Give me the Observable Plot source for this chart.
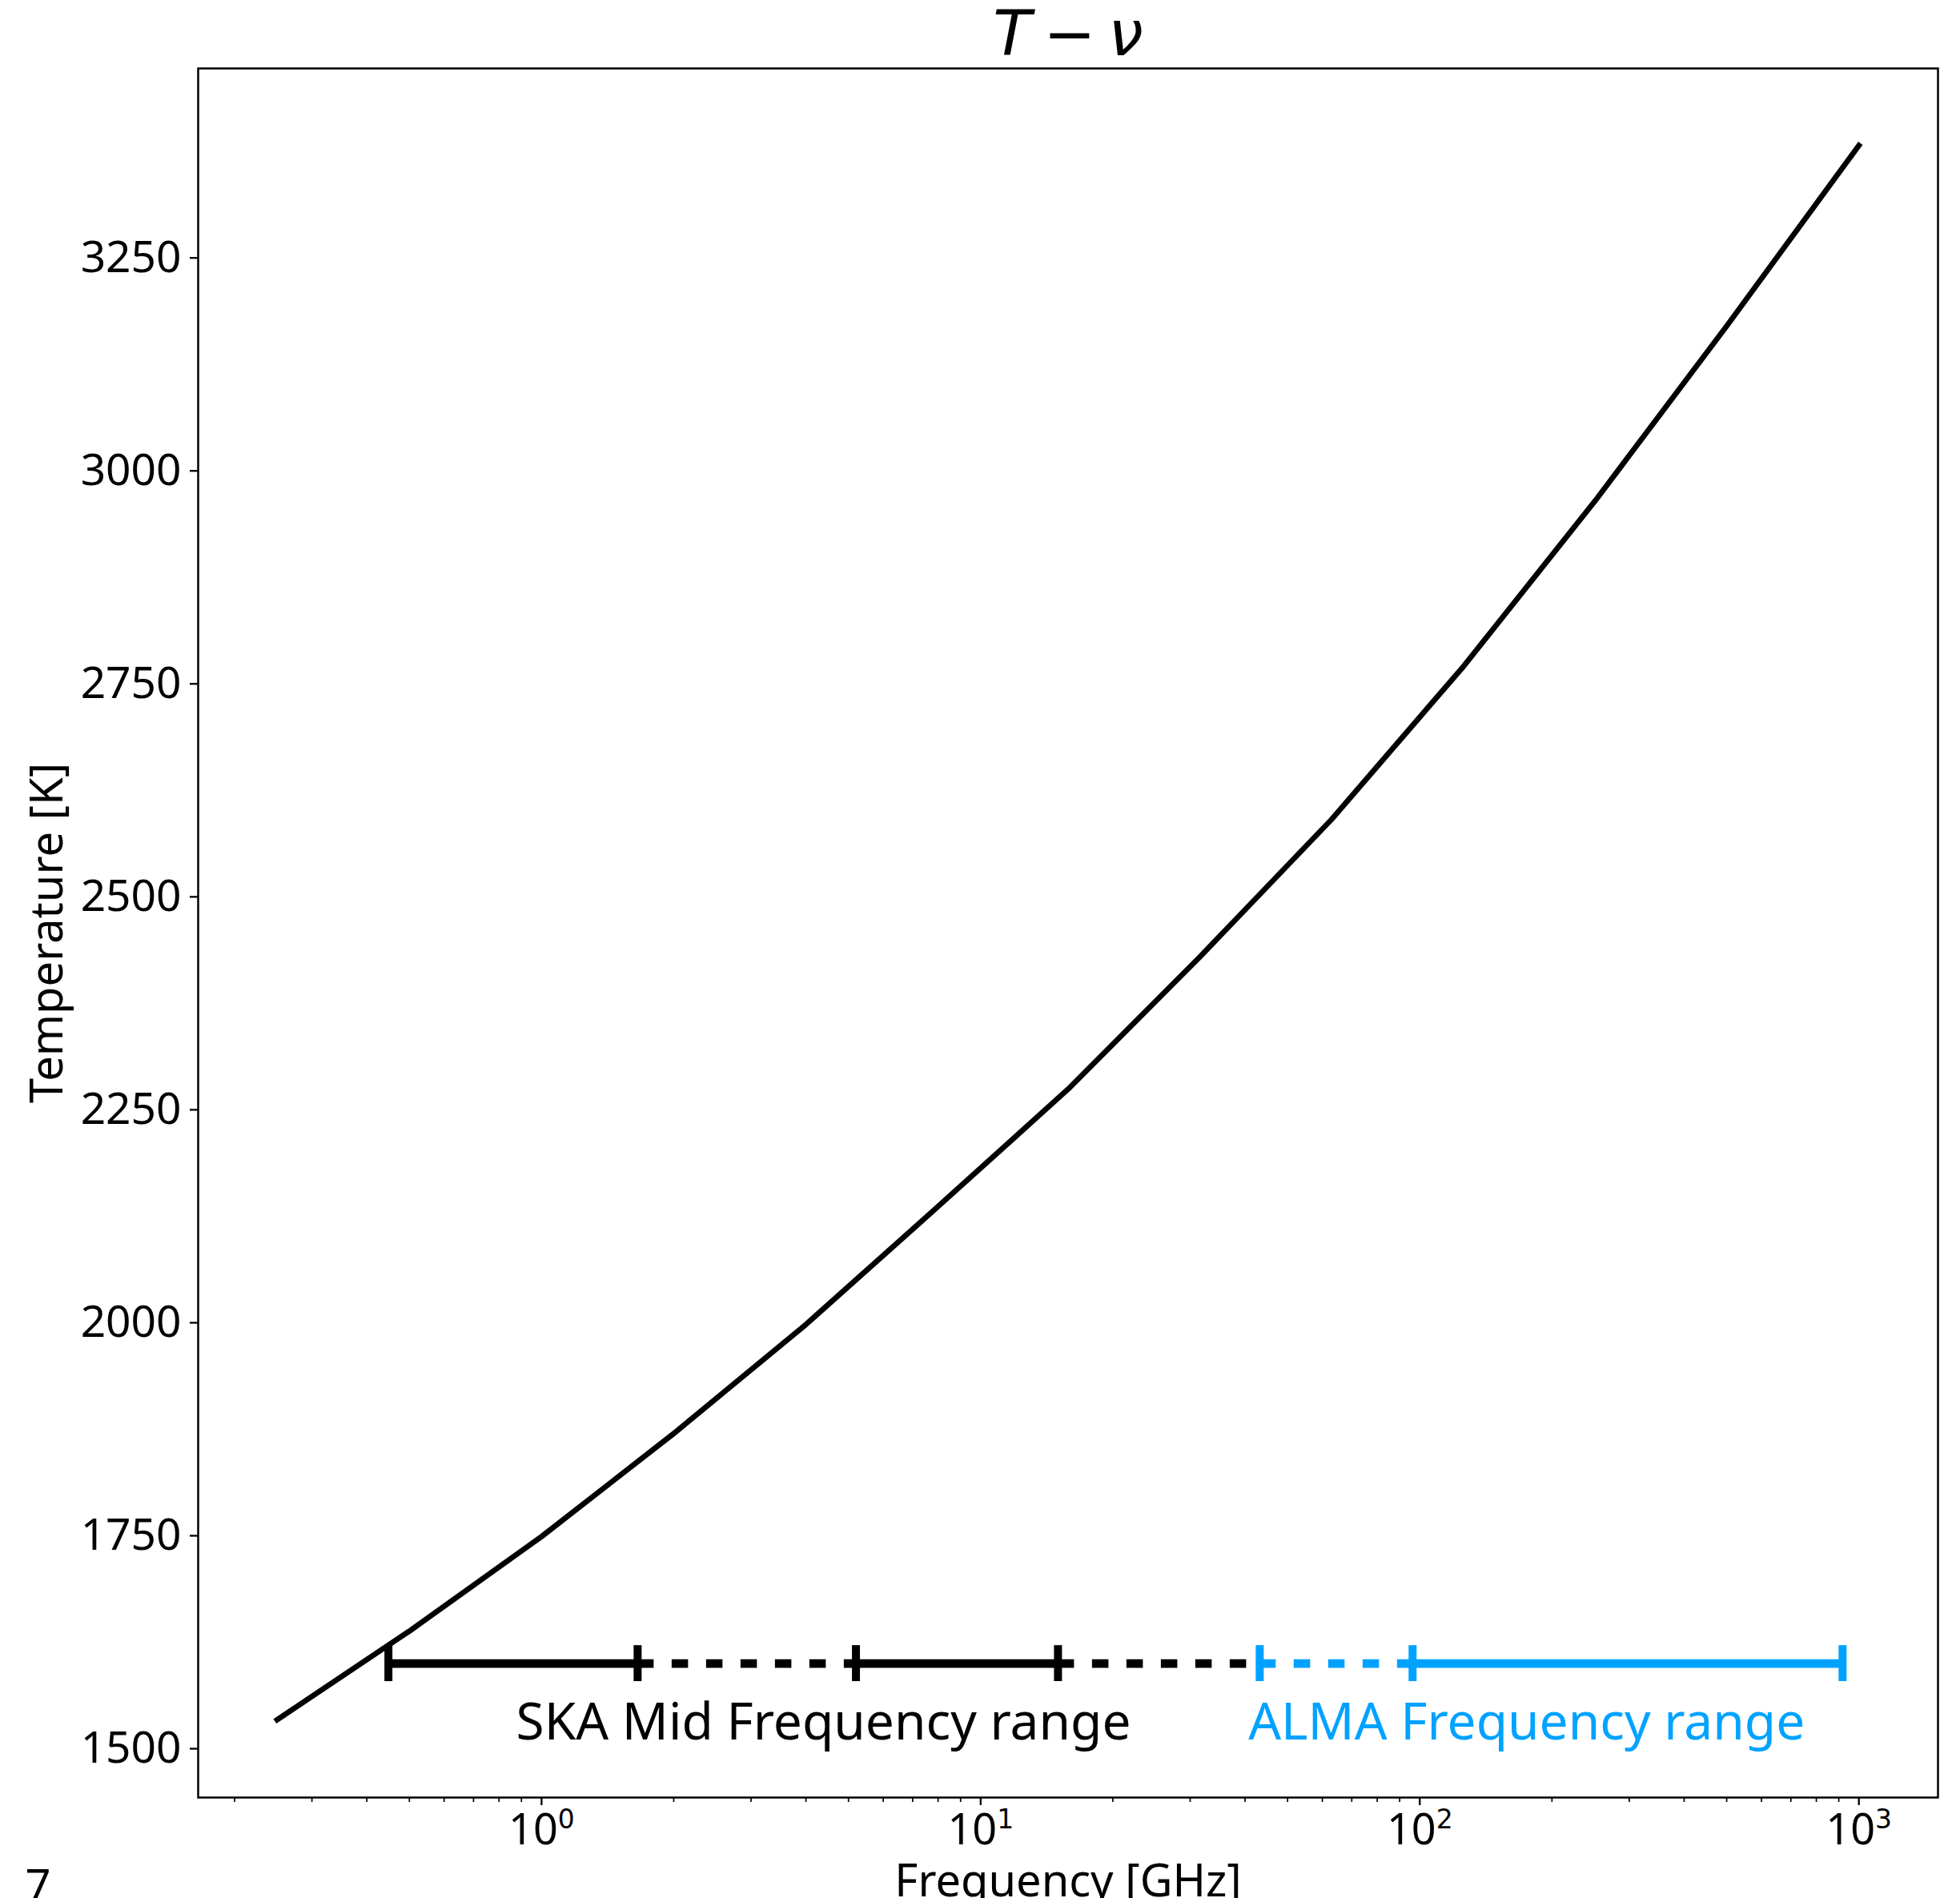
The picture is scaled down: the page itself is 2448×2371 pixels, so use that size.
<!DOCTYPE html>
<html>
<head>
<meta charset="utf-8">
<script src="https://cdn.jsdelivr.net/npm/d3@7"></script>
<script src="https://cdn.jsdelivr.net/npm/@observablehq/plot@0.6"></script>
<style>
  html, body { margin: 0; padding: 0; background: #fff; }
</style>
</head>
<body>
<div id="chart"></div>
<script>
// Temperature versus observing frequency (log-spaced samples)
const frequency   = [0.25, 0.5, 1, 2, 4, 7.9, 15.8, 31.5, 63, 126, 251, 500, 1000]; // GHz
const temperature = [1534, 1638, 1749, 1870, 1998, 2134, 2274, 2429, 2591, 2771, 2965, 3170, 3382]; // K

// Instrument coverage bands drawn at a fixed temperature level
const bandLevel = 1600; // K
const segStart    = [0.448, 1.655, 5.2, 15.0, 43.2, 96.3];
const segEnd      = [1.655, 5.2, 15.0, 43.2, 96.3, 918];
const segKind     = ["solid", "dashed", "solid", "dashed", "dashed", "solid"];
const segFacility = ["SKA", "SKA", "SKA", "SKA", "ALMA", "ALMA"];

const capFreq     = [0.448, 1.655, 5.2, 15.0, 43.2, 96.3, 918];
const capFacility = ["SKA", "SKA", "SKA", "SKA", "ALMA", "ALMA", "ALMA"];

const labelText     = ["SKA Mid Frequency range", "ALMA Frequency range"];
const labelFreq     = [0.875, 40.7];
const labelTemp     = 1511;
const labelFacility = ["SKA", "ALMA"];

// Axis ticks
const yTicks = [1500, 1750, 2000, 2250, 2500, 2750, 3000, 3250];
const xMajorTicks = [1, 10, 100, 1000];
const xMinorTicks = [0.2, 0.3, 0.4, 0.5, 0.6, 0.7, 0.8, 0.9,
                     2, 3, 4, 5, 6, 7, 8, 9,
                     20, 30, 40, 50, 60, 70, 80, 90,
                     200, 300, 400, 500, 600, 700, 800, 900];

const facilityColor = { SKA: "#000000", ALMA: "#00a2ff" };

// Tables built from the arrays above
const curve = frequency.map((f, i) => ({ f, T: temperature[i] }));
const segments = segStart.map((s, i) => ({ start: s, end: segEnd[i], kind: segKind[i], color: facilityColor[segFacility[i]] }));
const caps = capFreq.map((f, i) => ({ f, color: facilityColor[capFacility[i]] }));
const labels = labelText.map((t, i) => ({ text: t, f: labelFreq[i], T: labelTemp, color: facilityColor[labelFacility[i]] }));

const capHalf = 21.1; // half height of the band end caps, in K

const chart = Plot.plot({
  width: 2448,
  height: 2371,
  marginLeft: 247,
  marginRight: 28,
  marginTop: 85,
  marginBottom: 126,
  style: { fontFamily: "'Noto Sans', sans-serif", background: "#ffffff", color: "#000000" },
  x: { type: "log", domain: [0.1652, 1514] },
  y: { domain: [1442.7, 3472.4] },
  color: { type: "identity" },
  marks: [
    // y axis
    Plot.axisY({ ticks: yTicks, tickSize: 10, tickPadding: 11, fontSize: 55, strokeWidth: 2.3,
                 tickFormat: d => String(d), label: null }),
    // x axis: minor then major ticks
    Plot.axisX({ ticks: xMinorTicks, tickSize: 6, strokeWidth: 1.7, tickFormat: () => "", label: null }),
    Plot.axisX({ ticks: xMajorTicks, tickSize: 10, tickPadding: 10, fontSize: 54, strokeWidth: 2.3,
                 tickFormat: d => "10^" + Math.round(Math.log10(d)), label: null }),

    // the temperature curve
    Plot.line(curve, { x: "f", y: "T", stroke: "#000", strokeWidth: 6.8,
                       strokeLinecap: "square", strokeLinejoin: "round" }),

    // coverage bands
    Plot.ruleY(segments.filter(d => d.kind === "dashed"), {
      y: () => bandLevel, x1: "start", x2: "end", stroke: "color",
      strokeWidth: 10.7, strokeDasharray: "20.5,22.5", strokeLinecap: "butt" }),
    Plot.ruleY(segments.filter(d => d.kind === "solid"), {
      y: () => bandLevel, x1: "start", x2: "end", stroke: "color",
      strokeWidth: 10.7, strokeLinecap: "butt" }),
    Plot.ruleX(caps, {
      x: "f", y1: () => bandLevel - capHalf, y2: () => bandLevel + capHalf,
      stroke: "color", strokeWidth: 10, strokeLinecap: "butt" }),

    // band labels
    Plot.text(labels, { x: "f", y: "T", text: "text", fill: "color", fontSize: 64,
                        textAnchor: "start", lineAnchor: "bottom" }),

    // title and axis labels
    Plot.text(["T\u2009\u2212\u2009\u03bd"], { text: d => d, frameAnchor: "top", dy: -17, lineAnchor: "bottom",
                           fontSize: 78, fontStyle: "italic", fontFamily: "DejaVu Sans" }),
    Plot.text(["Frequency [GHz]"], { text: d => d, frameAnchor: "bottom", dy: 123, lineAnchor: "bottom",
                                     fontSize: 56 }),
    Plot.text(["Temperature [K]"], { text: d => d, frameAnchor: "left", dx: -170, rotate: -90,
                                     textAnchor: "middle", lineAnchor: "bottom", fontSize: 56 }),
    Plot.text(["7"], { text: d => d, frameAnchor: "bottom-left", dx: -216, dy: 130,
                       textAnchor: "start", lineAnchor: "bottom", fontSize: 56 }),

    Plot.frame({ stroke: "#000", strokeWidth: 2.5 })
  ]
});

// Render the decade labels as 10 with a raised exponent
d3.select(chart).selectAll('g[aria-label="x-axis tick label"] text').each(function () {
  const m = /^10\^(-?\d+)$/.exec(this.textContent);
  if (!m) return;
  this.textContent = "";
  const t = d3.select(this);
  t.append("tspan").text("10");
  t.append("tspan").attr("dy", -20).attr("font-size", 33).attr("font-family", "DejaVu Sans").text(m[1]);
});

document.getElementById("chart").appendChild(chart);
</script>
</body>
</html>
